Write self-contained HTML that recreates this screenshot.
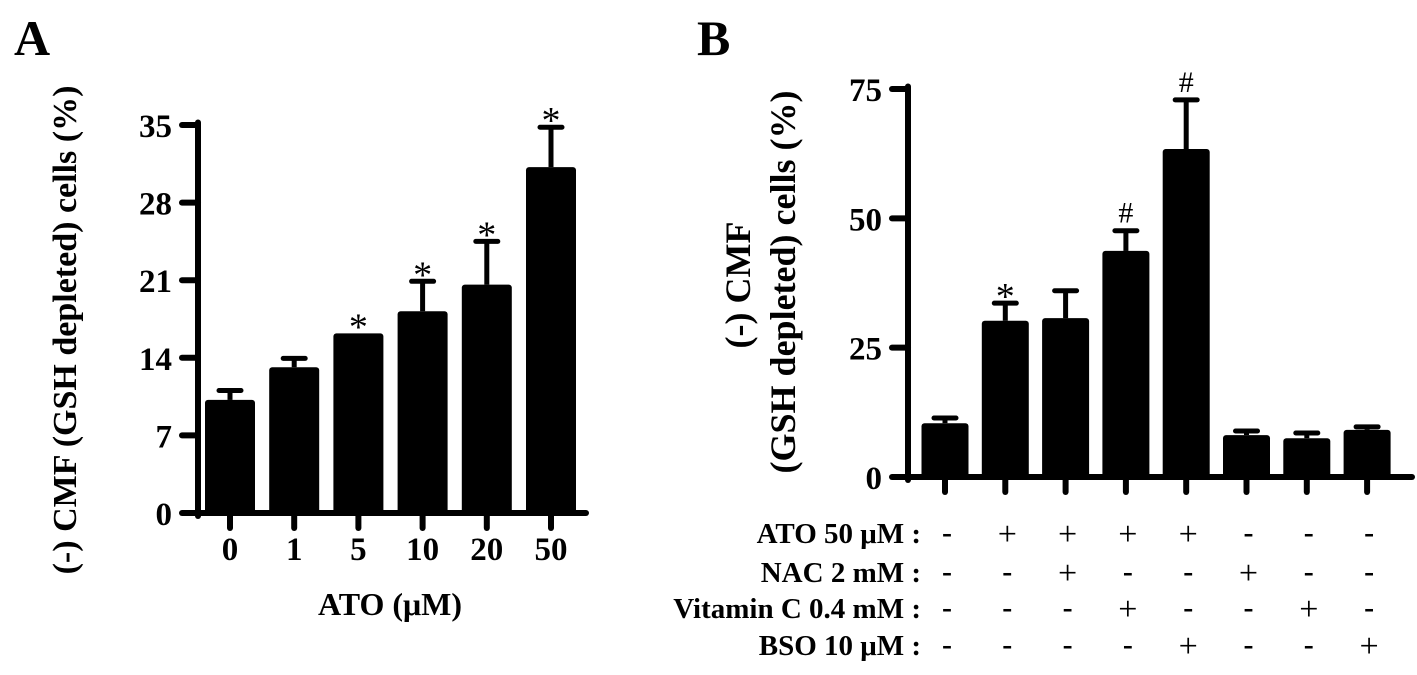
<!DOCTYPE html>
<html><head><meta charset="utf-8"><style>
html,body{margin:0;padding:0;background:#fff;}
svg{display:block;}
text{font-family:"Liberation Serif",serif;fill:#000;}
</style></head><body>
<svg id="fig" width="1417" height="675" viewBox="0 0 1417 675" xmlns="http://www.w3.org/2000/svg">
<text x="14" y="55" font-size="50" font-weight="bold">A</text>
<text x="697" y="55" font-size="50" font-weight="bold">B</text>
<text transform="translate(76,330) rotate(-90)" text-anchor="middle" font-size="34" font-weight="bold">(-) CMF (GSH depleted) cells (%)</text>
<text x="390" y="615" text-anchor="middle" font-size="32" font-weight="bold">ATO (μM)</text>
<text transform="translate(750,285) rotate(-90)" text-anchor="middle" font-size="36" font-weight="bold">(-) CMF</text>
<text transform="translate(795,282) rotate(-90)" text-anchor="middle" font-size="36" font-weight="bold">(GSH depleted) cells (%)</text>
<g id="ga"></g>
<g id="gb"></g>
</svg>
<script>
const catsA = ["0","1","5","10","20","50"];
const valsA = [10.2, 13.15, 16.2, 18.2, 20.6, 31.2];
const errA = [0.85, 0.8, 0, 2.7, 3.9, 3.6];
const sigA = ["", "", "*", "*", "*", "*"];
const ticksA = [0, 7, 14, 21, 28, 35];

const valsB = [10.4, 30.2, 30.7, 43.7, 63.4, 8.1, 7.5, 9.1];
const errB = [1.0, 3.4, 5.3, 3.9, 9.5, 0.8, 1.0, 0.6];
const sigB = ["", "*", "", "#", "#", "", "", ""];
const ticksB = [0, 25, 50, 75];
const rowLabels = ["ATO 50 μM :", "NAC 2 mM :", "Vitamin C 0.4 mM :", "BSO 10 μM :"];
const ATO = ["-","+","+","+","+","-","-","-"];
const NAC = ["-","-","+","-","-","+","-","-"];
const VITC = ["-","-","-","+","-","-","+","-"];
const BSO = ["-","-","-","-","+","-","-","+"];

const NS = "http://www.w3.org/2000/svg";
function mk(tag, attrs, parent, txt){
  const e = document.createElementNS(NS, tag);
  for (const k in attrs) e.setAttribute(k, attrs[k]);
  if (txt !== undefined) e.textContent = txt;
  parent.appendChild(e);
  return e;
}

function drawChart(g, cfg){
  const y = v => cfg.y0 - (v - 0) * (cfg.y0 - cfg.yTop) / cfg.max;
  const x = i => cfg.x0c + i * cfg.step;
  let a = mk("line", {x1:cfg.ax, y1:y(cfg.max)-2.5, x2:cfg.ax, y2:cfg.y0+3, stroke:"#000","stroke-width":6,"stroke-linecap":"round"}, g);
  
  
  let xa = mk("line", {x1:cfg.ax-14, y1:cfg.y0, x2:cfg.xEnd, y2:cfg.y0, stroke:"#000","stroke-width":6,"stroke-linecap":"round"}, g);
  
  
  cfg.ticks.forEach(t => {
    const tl = mk("line", {x1:cfg.ax-16, y1:y(t), x2:cfg.ax, y2:y(t), stroke:"#000","stroke-width":6,"stroke-linecap":"round"}, g);
    
    
    const tt = mk("text", {x:cfg.ax-26, y:y(t)+12, "text-anchor":"end","font-size":33,"font-weight":"bold"}, g, String(t));
    
    
  });
  cfg.vals.forEach((v, i) => {
    const cx = x(i), w = cfg.bw;
    const r = mk("rect", {x:cx-w/2, y:y(v), width:w, height:cfg.y0 - y(v), rx:3, fill:"#000"}, g);
    
    
    const e = cfg.err[i];
    if (e > 0) {
      const el = mk("line", {x1:cx, y1:y(v), x2:cx, y2:y(v+e), stroke:"#000","stroke-width":5}, g);
      
      
      const ec = mk("line", {x1:cx-11, y1:y(v+e), x2:cx+11, y2:y(v+e), stroke:"#000","stroke-width":5,"stroke-linecap":"round"}, g);
      
      
    }
    const xt = mk("line", {x1:cx, y1:cfg.y0, x2:cx, y2:cfg.y0+15, stroke:"#000","stroke-width":6,"stroke-linecap":"round"}, g);
    
    
    if (cfg.sig[i]) {
      const isStar = cfg.sig[i] === "*";
      const s = mk("text", {x:cx, y:y(v+e) - (isStar ? -6 : 8), "text-anchor":"middle","font-size": isStar ? 38 : 30}, g, cfg.sig[i]);
      
      
    }
  });
}

const ga = document.getElementById("ga");
drawChart(ga, {vals:valsA, err:errA, sig:sigA, ticks:ticksA, max:35, y0:513, yTop:125, ax:198, x0c:230, step:64.2, bw:50, xEnd:586});
catsA.forEach((c, i) => {
  const t = mk("text", {x:230 + i*64.2, y:560, "text-anchor":"middle","font-size":33,"font-weight":"bold"}, ga, c);
  
  
});

const gb = document.getElementById("gb");
drawChart(gb, {vals:valsB, err:errB, sig:sigB, ticks:ticksB, max:75, y0:477, yTop:89, ax:908, x0c:945, step:60.3, bw:47, xEnd:1412});

const rows = [ATO, NAC, VITC, BSO];
const rowY = [533, 572, 608, 645];
rows.forEach((row, r) => {
  const lt = mk("text", {x:921, y:rowY[r]+10, "text-anchor":"end","font-size":29,"font-weight":"bold"}, gb, rowLabels[r]);
  
  
  row.forEach((s, i) => {
    const cx = 947 + i*60.3;
    const t = mk("text", {x:cx, y:rowY[r] + (s === "+" ? 12 : 9), "text-anchor":"middle","font-size": s === "+" ? 34 : 30,"font-weight": s === "+" ? "normal" : "bold"}, gb, s);
    
    
  });
});
</script>
</body></html>
